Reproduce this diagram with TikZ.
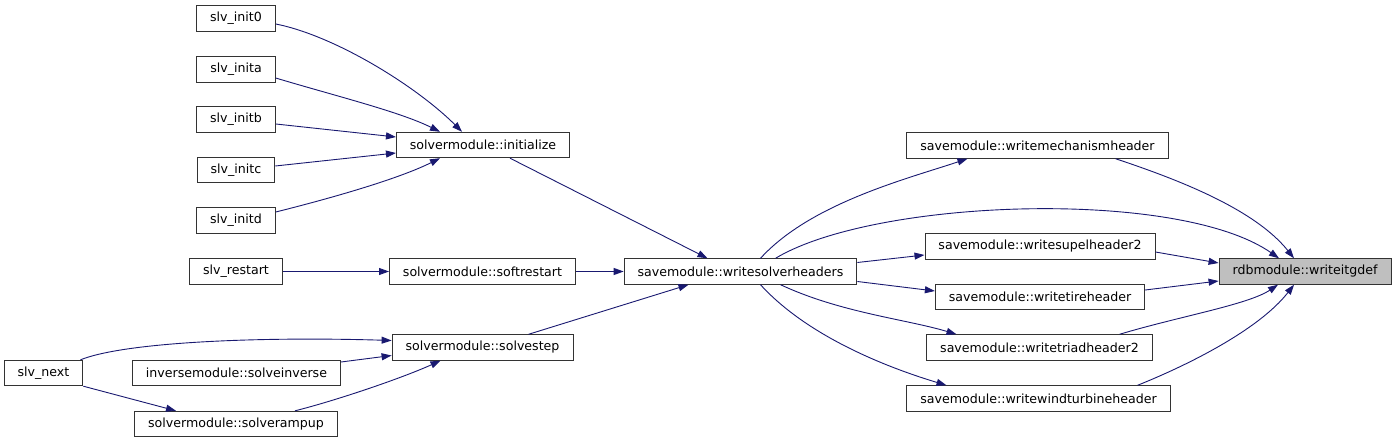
\documentclass[tikz,border=0pt]{standalone}
\usepackage{fontspec}
\setmainfont{DejaVu Sans}
\usepackage{tikz}
\usetikzlibrary{arrows.meta,positioning,calc}
\definecolor{edgeblue}{HTML}{191970}
\definecolor{nodegray}{HTML}{BFBFBF}

\begin{document}
\begin{tikzpicture}[x=1pt,y=-1pt,>={Triangle[length=10pt,width=7pt]}]
\tikzstyle{fn}=[draw=black!80, line width=0.9pt, rectangle, minimum height=25.5pt, inner xsep=13.5pt, inner ysep=0pt, font=\fontsize{12.6}{14}\selectfont]
\tikzstyle{call}=[->, draw=edgeblue, fill=none, line width=0.9pt]
\useasboundingbox (0,0) rectangle (1396,443);

\node[fn] (i0) at (236,18.5) {slv\_init0};
\node[fn] (ia) at (236,69.5) {slv\_inita};
\node[fn] (ib) at (236,119.5) {slv\_initb};
\node[fn] (ic) at (236,170) {slv\_initc};
\node[fn] (id) at (236,220.5) {slv\_initd};
\node[fn] (init) at (483,145) {solvermodule::initialize};
\node[fn] (restart) at (236,271.5) {slv\_restart};
\node[fn] (soft) at (482.5,271.5) {solvermodule::softrestart};
\node[fn] (step) at (482.5,347.5) {solvermodule::solvestep};
\node[fn] (next) at (43.5,373) {slv\_next};
\node[fn] (inverse) at (236.5,373) {inversemodule::solveinverse};
\node[fn] (rampup) at (236,424) {solvermodule::solverampup};
\node[fn] (wsh) at (740.5,271.5) {savemodule::writesolverheaders};
\node[fn] (mech) at (1037.5,145.5) {savemodule::writemechanismheader};
\node[fn] (supel) at (1040,246.5) {savemodule::writesupelheader2};
\node[fn] (tire) at (1040,297) {savemodule::writetireheader};
\node[fn] (triad) at (1039.5,347.5) {savemodule::writetriadheader2};
\node[fn] (wind) at (1038.5,398.5) {savemodule::writewindturbineheader};
\node[fn, fill=nodegray] (itgdef) at (1305,271.5) {rdbmodule::writeitgdef};

\draw[call] ($(i0.east)+(0,5.5)$) .. controls +(60,12) and +(-45,-45) .. ($(init.north)+(-21,0)$);
\draw[call] ($(ia.east)+(0,8.5)$) .. controls +(60,18) and +(-40,-20) .. ($(init.north)+(-43,0)$);
\draw[call] ($(ib.east)+(0,4.5)$) -- ($(init.west)+(0,-8)$);
\draw[call] ($(ic.east)+(0,-4)$) -- ($(init.west)+(0,8)$);
\draw[call] ($(id.east)+(0,-8.5)$) .. controls +(60,-15) and +(-40,20) .. ($(init.south)+(-43,0)$);
\draw[call] ($(init.south)+(27,0)$) -- ($(wsh.north)+(-33,0)$);
\draw[call] (restart) -- (soft);
\draw[call] (soft) -- (wsh);
\draw[call] ($(step.north)+(46,0)$) -- ($(wsh.south)+(-52,0)$);
\draw[call] ($(next.north)+(37,0)$) .. controls +(45,-18) and +(-130,-4) .. ($(step.west)+(0,-7)$);
\draw[call] ($(inverse.east)+(0,-11)$) -- ($(step.west)+(0,8)$);
\draw[call] (next.south east) -- ($(rampup.north)+(-60,0)$);
\draw[call] ($(rampup.north)+(59,0)$) .. controls +(40,-10) and +(-40,18) .. ($(step.south)+(-42,0)$);

\draw[call] ($(wsh.north)+(20,0)$) .. controls +(50,-55) and +(-60,20) .. ($(mech.south)+(-70,0)$);
\draw[call] ($(wsh.north)+(35,0)$) .. controls +(100,-60) and +(-100,-70) .. ($(itgdef.north)+(-26,0)$);
\draw[call] ($(wsh.east)+(0,-9)$) -- ($(supel.west)+(0,8.5)$);
\draw[call] ($(wsh.east)+(0,10)$) -- ($(tire.west)+(0,-6)$);
\draw[call] ($(wsh.south)+(40,0)$) .. controls +(60,28) and +(-50,-15) .. ($(triad.north)+(-83,0)$);
\draw[call] ($(wsh.south)+(20,0)$) .. controls +(50,55) and +(-50,-15) .. ($(wind.north)+(-92,0)$);
\draw[call] ($(mech.south)+(78,0)$) .. controls +(60,20) and +(-40,-50) .. ($(itgdef.north)+(-11,0)$);
\draw[call] ($(supel.east)+(0,5.5)$) -- ($(itgdef.west)+(0,-8.5)$);
\draw[call] ($(tire.east)+(0,-7)$) -- ($(itgdef.west)+(0,9.5)$);
\draw[call] ($(triad.north)+(80,0)$) .. controls +(60,-18) and +(-30,20) .. ($(itgdef.south)+(-27,0)$);
\draw[call] ($(wind.north)+(99,0)$) .. controls +(50,-20) and +(-35,45) .. ($(itgdef.south)+(-11,0)$);
\end{tikzpicture}
\end{document}
